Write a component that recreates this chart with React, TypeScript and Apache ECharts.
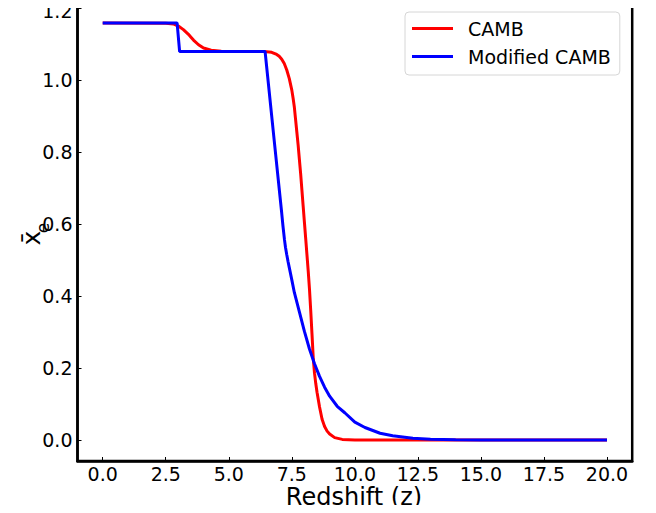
import React, { useEffect, useRef } from "react";
import * as echarts from "echarts";

// CAMB curve (redshift, ionization fraction)
const cambZ = [0, 2.5, 2.8, 3.0, 3.2, 3.4, 3.5, 3.6, 3.8, 4.0, 4.3, 4.7, 5.5, 6.4, 6.7, 6.9, 7.0, 7.1, 7.2, 7.3, 7.4, 7.5, 7.55, 7.6, 7.65, 7.7, 7.75, 7.8, 7.85, 7.9, 7.95, 8.0, 8.05, 8.1, 8.15, 8.2, 8.25, 8.3, 8.35, 8.4, 8.45, 8.5, 8.6, 8.7, 8.8, 8.9, 9.0, 9.2, 9.5, 10.0, 12.0, 15.0, 20.0];
const cambXe = [1.1587, 1.158, 1.156, 1.15, 1.14, 1.127, 1.119, 1.111, 1.098, 1.089, 1.083, 1.08, 1.0793, 1.0793, 1.077, 1.071, 1.066, 1.058, 1.046, 1.028, 1.004, 0.972, 0.95, 0.925, 0.89, 0.855, 0.82, 0.78, 0.74, 0.695, 0.65, 0.605, 0.56, 0.515, 0.47, 0.42, 0.36, 0.295, 0.228, 0.186, 0.157, 0.133, 0.092, 0.058, 0.038, 0.025, 0.017, 0.007, 0.002, 0.0005, 0, 0, 0];

// Modified CAMB curve
const modZ = [0, 2.95, 3.05, 6.44, 6.8, 7.1, 7.15, 7.21, 7.25, 7.3, 7.35, 7.4, 7.5, 7.6, 7.8, 8.0, 8.2, 8.4, 8.6, 8.8, 9.0, 9.3, 9.6, 10.0, 10.4, 11.0, 11.5, 12.3, 13.0, 14.0, 15.0, 20.0];
const modXe = [1.1587, 1.1587, 1.0793, 1.0793, 0.833, 0.63, 0.594, 0.556, 0.535, 0.515, 0.496, 0.479, 0.445, 0.41, 0.356, 0.302, 0.253, 0.212, 0.177, 0.147, 0.122, 0.094, 0.076, 0.05, 0.035, 0.019, 0.012, 0.005, 0.0025, 0.001, 0.0003, 0];

const xTicks = [0, 2.5, 5, 7.5, 10, 12.5, 15, 17.5, 20];
const yTicks = [0, 0.2, 0.4, 0.6, 0.8, 1.0, 1.2];

const seriesNames = ["CAMB", "Modified CAMB"];
const xTitle = "Redshift (z)";
const FONT = "DejaVu Sans";

export default function App() {
  const ref = useRef<HTMLDivElement>(null);
  useEffect(() => {
    if (!ref.current) return;
    const chart = echarts.init(ref.current, null, { renderer: "svg" });
    const zip = (a: number[], b: number[]) => a.map((v, i) => [v, b[i]]);
    chart.setOption({
      animation: false,
      backgroundColor: "#fff",
      grid: {
        left: 77.5,
        top: 3,
        width: 554.7,
        height: 458,
        show: true,
        borderColor: "#000",
        borderWidth: 2.5,
        backgroundColor: "transparent",
        containLabel: false,
        outerBoundsMode: "none",
      },
      legend: {
        data: seriesNames,
        orient: "vertical",
        left: 405,
        top: 12,
        padding: [7, 9, 9, 7],
        itemGap: 9,
        itemWidth: 41,
        itemHeight: 3,
        icon: "rect",
        backgroundColor: "rgba(255,255,255,0.8)",
        borderColor: "#d6d6d6",
        borderWidth: 1,
        borderRadius: 4,
        textStyle: { fontFamily: FONT, fontSize: 19, color: "#000", padding: [0, 0, 0, 10] },
      },
      xAxis: {
        type: "value",
        min: -1,
        max: 21,
        axisLine: { show: true, onZero: false, lineStyle: { color: "#000", width: 2.5 } },
        axisTick: { show: true, inside: true, length: 4, customValues: xTicks, lineStyle: { color: "#000", width: 1 } },
        axisLabel: {
          customValues: xTicks,
          formatter: (v: number) => v.toFixed(1),
          fontFamily: FONT,
          fontSize: 19,
          color: "#000",
          margin: 3,
        },
        splitLine: { show: false },
      },
      yAxis: {
        type: "value",
        min: -0.058,
        max: 1.214,
        axisLine: { show: true, onZero: false, lineStyle: { color: "#000", width: 2.5 } },
        axisTick: { show: true, inside: true, length: 4, customValues: yTicks, lineStyle: { color: "#000", width: 1 } },
        axisLabel: {
          customValues: yTicks,
          formatter: (v: number) => (v > 1.1 ? `{t|${v.toFixed(1)}}` : v.toFixed(1)),
          rich: { t: { fontFamily: FONT, fontSize: 19, color: "#000", padding: [5, 0, 0, 0] } },
          fontFamily: FONT,
          fontSize: 19,
          color: "#000",
          margin: 5,
        },
        splitLine: { show: false },
      },
      graphic: [
        {
          type: "text",
          x: 354,
          y: 497,
          style: {
            text: xTitle,
            font: `24px "${FONT}"`,
            fill: "#000",
            align: "center",
            verticalAlign: "middle",
          },
        },
        {
          type: "text",
          x: 31.5,
          y: 238,
          rotation: Math.PI / 2,
          style: {
            text: "x\u0304",
            font: `25px "${FONT}"`,
            fill: "#000",
            align: "center",
            verticalAlign: "middle",
          },
        },
        {
          type: "text",
          x: 43,
          y: 228,
          rotation: Math.PI / 2,
          style: {
            text: "e",
            font: `17px "${FONT}"`,
            fill: "#000",
            align: "center",
            verticalAlign: "middle",
          },
        },
      ],
      series: [
        {
          name: seriesNames[0],
          type: "line",
          data: zip(cambZ, cambXe),
          showSymbol: false,
          symbol: "none",
          smooth: false,
          lineStyle: { color: "#ff0000", width: 3 },
          itemStyle: { color: "#ff0000" },
        },
        {
          name: seriesNames[1],
          type: "line",
          data: zip(modZ, modXe),
          showSymbol: false,
          symbol: "none",
          smooth: false,
          lineStyle: { color: "#0000ff", width: 3 },
          itemStyle: { color: "#0000ff" },
        },
      ],
    });
    return () => chart.dispose();
  }, []);
  return <div ref={ref} style={{ width: 656, height: 513, margin: -8 }} />;
}
